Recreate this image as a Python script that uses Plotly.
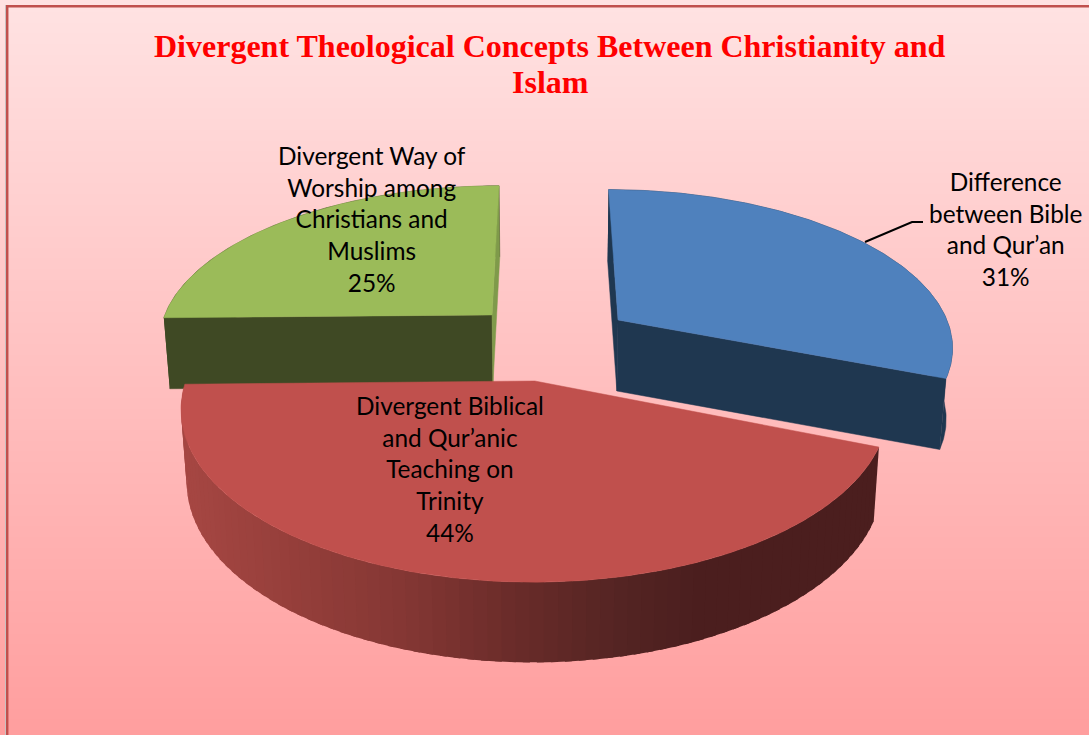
import numpy as np
import plotly.graph_objects as go

TITLE_LINES = ["Divergent Theological Concepts Between Christianity and", "Islam"]
categories = ["Difference<br>between Bible<br>and Qur’an",
              "Divergent Biblical<br>and Qur’anic<br>Teaching on<br>Trinity",
              "Divergent Way of<br>Worship among<br>Christians and<br>Muslims"]
values = [31.0, 43.7, 25.3]

# ---- styling / projection of the tilted pie ----
top_colors = ["#4F81BD", "#C0504D", "#9BBB59"]
start_wall = ["#1F3750", None, "#3F4924"]
end_wall = ["#1F3750", None, "#7F9A4A"]
explode = [(0.219, -0.383), (-0.032, 0.0), (-0.165, -0.417)]   # ground offsets
label_pos = [(1005, 229), (450, 469), (372, 219)]
title_y = [46, 82]
VX, VY, A, H, K = 546.0, 381.0, 349.0, 169.0, 0.16
SHRINK = 0.0156
W, HT = 1089, 735
SHADE_X = [190, 300, 400, 530, 620, 700]
SHADE_R = [165, 148, 133, 102, 84, 75]
SHADE_G = [70, 62, 55, 42, 36, 30]
SHADE_B = [66, 58, 52, 40, 35, 30]


def project(X, Y):
    s = 1 / (1 - K * Y)
    return VX + A * X * s, VY + H * Y * s, s


def lower(x, y, s):
    return VX + (x - VX) * (1 - SHRINK), y + 71 * np.maximum(1, s) ** 0.7


def polygon(x, y, color, edge=0.5):
    return go.Scatter(x=list(x), y=list(y), mode="lines", fill="toself", fillcolor=color,
                      line=dict(color=color, width=edge), hoverinfo="skip", showlegend=False)


fig = go.Figure()

# background gradient
fig.add_trace(go.Heatmap(x=[0, W], y=[6, HT], z=[[0, 0], [1, 1]], zsmooth="best", showscale=False,
                         colorscale=[[0, "rgb(255,226,226)"], [1, "rgb(255,158,158)"]], hoverinfo="skip"))

fractions = np.array(values, dtype=float) / sum(values)
starts = np.concatenate([[0], np.cumsum(fractions)[:-1]]) * 360
ends = starts + fractions * 360

order = [2, 0, 1]  # green and blue first, the red slice lies on top
for i in order:
    th = np.radians(np.linspace(starts[i], ends[i], 161))
    ox, oy = explode[i]
    X = ox + np.sin(th)
    Y = oy - np.cos(th)
    ax, ay, s = project(X, Y)
    bx, by = lower(ax, ay, s)
    cx, cy, cs = project(np.array([ox]), np.array([oy]))
    cbx, cby = lower(cx, cy, cs)

    if start_wall[i] is None:
        # shaded outer wall, drawn in narrow overlapping strips
        for j in range(0, 158, 2):
            mid = (ax[j] + ax[j + 2]) / 2
            r = np.interp(mid, SHADE_X, SHADE_R)
            g = np.interp(mid, SHADE_X, SHADE_G)
            b = np.interp(mid, SHADE_X, SHADE_B)
            col = f"rgb({r:.0f},{g:.0f},{b:.0f})"
            k = j + 4
            fig.add_trace(polygon(np.r_[ax[j:k], bx[j:k][::-1]], np.r_[ay[j:k], by[j:k][::-1]], col, edge=0))
    else:
        fig.add_trace(polygon(np.r_[ax, bx[::-1]], np.r_[ay, by[::-1]], start_wall[i]))
        # radial walls
        fig.add_trace(polygon([ax[0], cx[0], cbx[0], bx[0]], [ay[0], cy[0], cby[0], by[0]], start_wall[i]))
        fig.add_trace(polygon([ax[-1], cx[0], cbx[0], bx[-1]], [ay[-1], cy[0], cby[0], by[-1]], end_wall[i]))
    # top face
    fig.add_trace(polygon(np.r_[cx, ax, cx], np.r_[cy, ay, cy], top_colors[i]))

# leader line
fig.add_trace(go.Scatter(x=[865, 912, 923], y=[242, 222, 222], mode="lines",
                         line=dict(color="black", width=2), hoverinfo="skip", showlegend=False))

annotations = []
for line, y in zip(TITLE_LINES, title_y):
    annotations.append(dict(x=550, y=y, text=f"<b>{line}</b>", showarrow=False, xref="x", yref="y",
                            align="center", font=dict(family="Liberation Serif", size=32, color="#FF0000")))
for cat, val, pos in zip(categories, values, label_pos):
    annotations.append(dict(x=pos[0], y=pos[1], text=f"{cat}<br>{round(val)}%", showarrow=False, align="center",
                            xref="x", yref="y", font=dict(family="Lato", size=24.4, color="black")))

shapes = [
    dict(type="line", x0=5.5, x1=5.5, y0=5, y1=HT, line=dict(color="#C8C8C8", width=1), layer="above"),
    dict(type="rect", x0=7.2, x1=W + 20, y0=6.2, y1=HT + 20, line=dict(color="#C0504D", width=2.5),
         fillcolor="rgba(0,0,0,0)", layer="above"),
]

fig.update_layout(
    width=W, height=HT, margin=dict(l=0, r=0, t=0, b=0), autosize=False,
    paper_bgcolor="white", plot_bgcolor="white", showlegend=False,
    xaxis=dict(range=[0, W], visible=False, fixedrange=True),
    yaxis=dict(range=[HT, 0], visible=False, fixedrange=True),
    annotations=annotations, shapes=shapes,
)
fig.write_html("out.html", config=dict(displayModeBar=False),
               post_script="document.body.style.margin='0';document.documentElement.style.overflow='hidden';")
